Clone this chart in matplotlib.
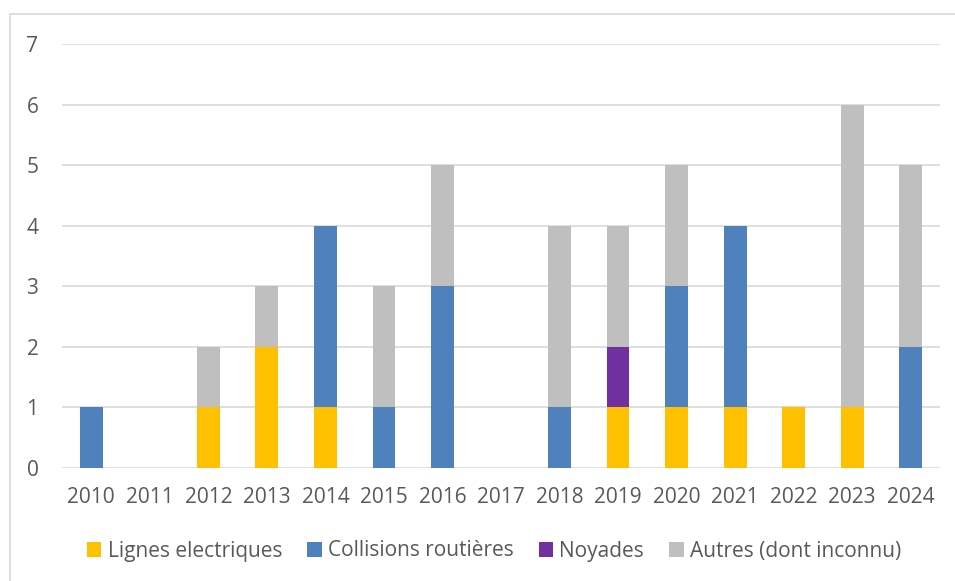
import matplotlib
matplotlib.use("Agg")
import matplotlib.pyplot as plt
from matplotlib.patches import Patch, Rectangle
import numpy as np

years = ["2010", "2011", "2012", "2013", "2014", "2015", "2016", "2017",
         "2018", "2019", "2020", "2021", "2022", "2023", "2024"]
lignes = [0, 0, 1, 2, 1, 0, 0, 0, 0, 1, 1, 1, 1, 1, 0]
collisions = [1, 0, 0, 0, 3, 1, 3, 0, 1, 0, 2, 3, 0, 0, 2]
noyades = [0, 0, 0, 0, 0, 0, 0, 0, 0, 1, 0, 0, 0, 0, 0]
autres = [0, 0, 1, 1, 0, 2, 2, 0, 3, 2, 2, 0, 0, 5, 3]

series = [
    ("Lignes electriques", lignes, "#FFC000"),
    ("Collisions routières", collisions, "#4F81BD"),
    ("Noyades", noyades, "#7030A0"),
    ("Autres (dont inconnu)", autres, "#BFBFBF"),
]

plt.rcParams['font.family'] = ['Open Sans', 'DejaVu Sans']
txt = "#595959"

W, H = 955, 581
fig = plt.figure(figsize=(W / 100, H / 100), dpi=100)
fig.patches.append(Rectangle((10 / W, -0.1), 1.2, 1 - 14 / H + 0.1,
                             transform=fig.transFigure, fill=False,
                             edgecolor="#D9D9D9", linewidth=1.2))
ax = fig.add_axes([62 / W, 1 - 468 / H, (940 - 62) / W, (468 - 44) / H])

x = np.arange(len(years))
bottom = np.zeros(len(years))
handles = []
for name, vals, col in series:
    v = np.array(vals, dtype=float)
    ax.bar(x, v, width=0.39, bottom=bottom, color=col, zorder=3)
    bottom += v
    handles.append(Patch(facecolor=col, label=name))

ax.set_xlim(-0.5, len(years) - 0.5)
ax.set_ylim(0, 7)
ax.set_yticks(range(0, 8))
ax.set_xticks(x)
ax.set_xticklabels(years)
ax.grid(axis="y", color="#D9D9D9", linewidth=1.2, zorder=0)
for s in ax.spines.values():
    s.set_visible(False)
ax.tick_params(axis="both", length=0, labelsize=15, colors=txt)
ax.tick_params(axis="y", pad=17)
ax.tick_params(axis="x", pad=14)

fig.legend(handles=handles, loc="center", bbox_to_anchor=(494 / W, 1 - 551 / H),
           ncol=4, frameon=False, fontsize=15, labelcolor=txt,
           handlelength=0.7, handleheight=0.7, handletextpad=0.3,
           columnspacing=1.2)

fig.savefig("out.png", dpi=100)
